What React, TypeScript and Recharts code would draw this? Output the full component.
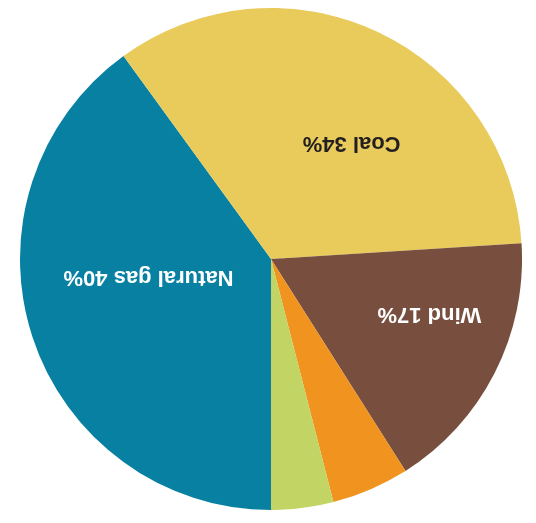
import { PieChart, Pie, Cell } from 'recharts';

// Reference is printed upside down, so the whole chart is turned 180deg below
const sources = ['Natural gas', 'Coal', 'Wind', 'Solar', 'Other'];
const shares = [40, 34, 17, 5, 4];
const colors = ['#0880A1', '#E8CB5A', '#784F3F', '#F0931F', '#C2D464'];

const data = sources.map((name, i) => ({ name, value: shares[i] }));

// label placement: distance from centre and angle nudge (deg, clockwise)
const labelTweak: Record<string, { r: number; da: number; fill: string }> = {
  'Natural gas': { r: 124, da: 9, fill: '#ffffff' },
  Coal: { r: 140, da: 10, fill: '#231F20' },
  Wind: { r: 168, da: -7.5, fill: '#ffffff' },
};

const RADIAN = Math.PI / 180;

function renderLabel(props: any) {
  const { cx, cy, midAngle, name, value } = props;
  const t = labelTweak[name];
  if (!t) return null;
  const angle = midAngle - t.da;
  const x = cx + t.r * Math.cos(angle * RADIAN);
  const y = cy - t.r * Math.sin(angle * RADIAN);
  return (
    <text
      x={x}
      y={y}
      fill={t.fill}
      textAnchor="middle"
      dominantBaseline="central"
      fontFamily="'Liberation Sans', Arial, sans-serif"
      fontWeight="bold"
      fontSize={22}
    >
      {`${name} ${value}%`}
    </text>
  );
}

export default function App() {
  return (
    <div
      style={{
        position: 'fixed',
        left: 0,
        top: 0,
        width: 536,
        height: 523,
        background: '#ffffff',
        transform: 'rotate(180deg)',
      }}
    >
      <PieChart width={536} height={523} margin={{ top: 0, right: 0, bottom: 0, left: 0 }}>
        <Pie
          data={data}
          dataKey="value"
          nameKey="name"
          cx={265}
          cy={264}
          outerRadius={251}
          startAngle={90}
          endAngle={-270}
          stroke="none"
          label={renderLabel}
          labelLine={false}
          isAnimationActive={false}
        >
          {data.map((d, i) => (
            <Cell key={d.name} fill={colors[i]} />
          ))}
        </Pie>
      </PieChart>
    </div>
  );
}
